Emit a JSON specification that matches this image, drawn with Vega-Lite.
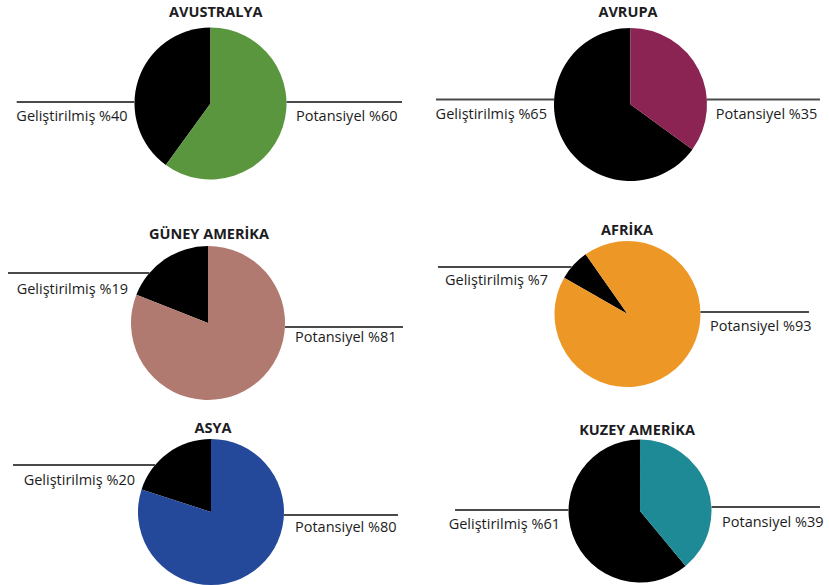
{
  "$schema": "https://vega.github.io/schema/vega-lite/v6.json",
  "padding": 0,
  "bounds": "flush",
  "align": "each",
  "background": "#ffffff",
  "spacing": 0,
  "columns": 2,
  "config": {
    "view": {"stroke": null},
    "text": {"font": "Open Sans", "fontSize": 14.5, "color": "#1c1c22"}
  },
  "datasets": {
    "veri": [
      {"kita": "AVUSTRALYA", "tur": "Geliştirilmiş", "deger": 40},
      {"kita": "AVUSTRALYA", "tur": "Potansiyel", "deger": 60},
      {"kita": "AVRUPA", "tur": "Geliştirilmiş", "deger": 65},
      {"kita": "AVRUPA", "tur": "Potansiyel", "deger": 35},
      {"kita": "GÜNEY AMERİKA", "tur": "Geliştirilmiş", "deger": 19},
      {"kita": "GÜNEY AMERİKA", "tur": "Potansiyel", "deger": 81},
      {"kita": "AFRİKA", "tur": "Geliştirilmiş", "deger": 7},
      {"kita": "AFRİKA", "tur": "Potansiyel", "deger": 93},
      {"kita": "ASYA", "tur": "Geliştirilmiş", "deger": 20},
      {"kita": "ASYA", "tur": "Potansiyel", "deger": 80},
      {"kita": "KUZEY AMERİKA", "tur": "Geliştirilmiş", "deger": 61},
      {"kita": "KUZEY AMERİKA", "tur": "Potansiyel", "deger": 39}
    ]
  },
  "concat": [
    {
      "width": 414, "height": 210,
      "data": {"name": "veri"},
      "transform": [{"filter": "datum.kita === 'AVUSTRALYA'"}, {"calculate": "datum.tur + ' %' + datum.deger", "as": "etiket"}],
      "encoding": {
        "x": {"datum": 0, "type": "quantitative", "scale": {"domain": [-2.770, 2.678], "nice": false, "zero": false}, "axis": null},
        "y": {"datum": 0, "type": "quantitative", "scale": {"domain": [-1.401, 1.362], "nice": false, "zero": false}, "axis": null}
      },
      "layer": [
        {"mark": {"type": "arc", "outerRadius": 76},
         "encoding": {"theta": {"field": "deger", "type": "quantitative", "stack": true},
                      "color": {"condition": {"test": "datum.tur === 'Potansiyel'", "value": "#5a963e"}, "value": "#000000"},
                      "order": {"field": "tur", "sort": "descending"}}},
        {"transform": [{"filter": "datum.tur === 'Potansiyel'"}], "mark": {"type": "text", "fontWeight": "bold", "baseline": "middle"},
         "encoding": {"x": {"datum": 0.07}, "y": {"datum": 1.195}, "text": {"field": "kita"}}},
        {"transform": [{"filter": "datum.tur === 'Geliştirilmiş'"}], "mark": {"type": "rule", "color": "#4a4a4a", "strokeWidth": 2},
         "encoding": {"x": {"datum": -2.55}, "x2": {"datum": -1.0}, "y": {"datum": 0.02}}},
        {"transform": [{"filter": "datum.tur === 'Geliştirilmiş'"}], "mark": {"type": "text", "align": "right", "baseline": "middle", "dy": 15},
         "encoding": {"x": {"datum": -1.09}, "y": {"datum": 0.02}, "text": {"field": "etiket"}}},
        {"transform": [{"filter": "datum.tur === 'Potansiyel'"}], "mark": {"type": "rule", "color": "#4a4a4a", "strokeWidth": 2},
         "encoding": {"x": {"datum": 1.0}, "x2": {"datum": 2.52}, "y": {"datum": 0.02}}},
        {"transform": [{"filter": "datum.tur === 'Potansiyel'"}], "mark": {"type": "text", "align": "left", "baseline": "middle", "dy": 15},
         "encoding": {"x": {"datum": 1.125}, "y": {"datum": 0.02}, "text": {"field": "etiket"}}}
      ]
    },
    {
      "width": 414, "height": 210,
      "data": {"name": "veri"},
      "transform": [{"filter": "datum.kita === 'AVRUPA'"}, {"calculate": "datum.tur + ' %' + datum.deger", "as": "etiket"}],
      "encoding": {
        "x": {"datum": 0, "type": "quantitative", "scale": {"domain": [-2.830, 2.582], "nice": false, "zero": false}, "axis": null},
        "y": {"datum": 0, "type": "quantitative", "scale": {"domain": [-1.379, 1.366], "nice": false, "zero": false}, "axis": null}
      },
      "layer": [
        {"mark": {"type": "arc", "outerRadius": 76.5},
         "encoding": {"theta": {"field": "deger", "type": "quantitative", "stack": true},
                      "color": {"condition": {"test": "datum.tur === 'Potansiyel'", "value": "#8b2353"}, "value": "#000000"},
                      "order": {"field": "tur", "sort": "descending"}}},
        {"transform": [{"filter": "datum.tur === 'Potansiyel'"}], "mark": {"type": "text", "fontWeight": "bold", "baseline": "middle"},
         "encoding": {"x": {"datum": -0.033}, "y": {"datum": 1.196}, "text": {"field": "kita"}}},
        {"transform": [{"filter": "datum.tur === 'Geliştirilmiş'"}], "mark": {"type": "rule", "color": "#4a4a4a", "strokeWidth": 2},
         "encoding": {"x": {"datum": -2.542}, "x2": {"datum": -1.0}, "y": {"datum": 0.065}}},
        {"transform": [{"filter": "datum.tur === 'Geliştirilmiş'"}], "mark": {"type": "text", "align": "right", "baseline": "middle", "dy": 15.5},
         "encoding": {"x": {"datum": -1.092}, "y": {"datum": 0.065}, "text": {"field": "etiket"}}},
        {"transform": [{"filter": "datum.tur === 'Potansiyel'"}], "mark": {"type": "rule", "color": "#4a4a4a", "strokeWidth": 2},
         "encoding": {"x": {"datum": 1.0}, "x2": {"datum": 2.477}, "y": {"datum": 0.065}}},
        {"transform": [{"filter": "datum.tur === 'Potansiyel'"}], "mark": {"type": "text", "align": "left", "baseline": "middle", "dy": 15.5},
         "encoding": {"x": {"datum": 1.116}, "y": {"datum": 0.065}, "text": {"field": "etiket"}}}
      ]
    },
    {
      "width": 414, "height": 200,
      "data": {"name": "veri"},
      "transform": [{"filter": "datum.kita === 'GÜNEY AMERİKA'"}, {"calculate": "datum.tur + ' %' + datum.deger", "as": "etiket"}],
      "encoding": {
        "x": {"datum": 0, "type": "quantitative", "scale": {"domain": [-2.701, 2.675], "nice": false, "zero": false}, "axis": null},
        "y": {"datum": 0, "type": "quantitative", "scale": {"domain": [-1.130, 1.468], "nice": false, "zero": false}, "axis": null}
      },
      "layer": [
        {"mark": {"type": "arc", "outerRadius": 77},
         "encoding": {"theta": {"field": "deger", "type": "quantitative", "stack": true},
                      "color": {"condition": {"test": "datum.tur === 'Potansiyel'", "value": "#b07a70"}, "value": "#000000"},
                      "order": {"field": "tur", "sort": "descending"}}},
        {"transform": [{"filter": "datum.tur === 'Potansiyel'"}], "mark": {"type": "text", "fontWeight": "bold", "baseline": "middle"},
         "encoding": {"x": {"datum": 0.013}, "y": {"datum": 1.143}, "text": {"field": "kita"}}},
        {"transform": [{"filter": "datum.tur === 'Geliştirilmiş'"}], "mark": {"type": "rule", "color": "#4a4a4a", "strokeWidth": 2},
         "encoding": {"x": {"datum": -2.597}, "x2": {"datum": -0.76}, "y": {"datum": 0.649}}},
        {"transform": [{"filter": "datum.tur === 'Geliştirilmiş'"}], "mark": {"type": "text", "align": "right", "baseline": "middle", "dy": 17},
         "encoding": {"x": {"datum": -1.039}, "y": {"datum": 0.649}, "text": {"field": "etiket"}}},
        {"transform": [{"filter": "datum.tur === 'Potansiyel'"}], "mark": {"type": "rule", "color": "#4a4a4a", "strokeWidth": 2},
         "encoding": {"x": {"datum": 1.0}, "x2": {"datum": 2.532}, "y": {"datum": -0.052}}},
        {"transform": [{"filter": "datum.tur === 'Potansiyel'"}], "mark": {"type": "text", "align": "left", "baseline": "middle", "dy": 11},
         "encoding": {"x": {"datum": 1.13}, "y": {"datum": -0.052}, "text": {"field": "etiket"}}}
      ]
    },
    {
      "width": 414, "height": 200,
      "data": {"name": "veri"},
      "transform": [{"filter": "datum.kita === 'AFRİKA'"}, {"calculate": "datum.tur + ' %' + datum.deger", "as": "etiket"}],
      "encoding": {
        "x": {"datum": 0, "type": "quantitative", "scale": {"domain": [-2.925, 2.747], "nice": false, "zero": false}, "axis": null},
        "y": {"datum": 0, "type": "quantitative", "scale": {"domain": [-1.315, 1.425], "nice": false, "zero": false}, "axis": null}
      },
      "layer": [
        {"mark": {"type": "arc", "outerRadius": 73},
         "encoding": {"theta": {"field": "deger", "type": "quantitative", "stack": true, "scale": {"range": [-0.611, 5.672]}},
                      "color": {"condition": {"test": "datum.tur === 'Potansiyel'", "value": "#ed9826"}, "value": "#000000"},
                      "order": {"field": "tur", "sort": "descending"}}},
        {"transform": [{"filter": "datum.tur === 'Potansiyel'"}], "mark": {"type": "text", "fontWeight": "bold", "baseline": "middle"},
         "encoding": {"x": {"datum": -0.007}, "y": {"datum": 1.137}, "text": {"field": "kita"}}},
        {"transform": [{"filter": "datum.tur === 'Geliştirilmiş'"}], "mark": {"type": "rule", "color": "#4a4a4a", "strokeWidth": 2},
         "encoding": {"x": {"datum": -2.596}, "x2": {"datum": -0.765}, "y": {"datum": 0.644}}},
        {"transform": [{"filter": "datum.tur === 'Geliştirilmiş'"}], "mark": {"type": "text", "align": "right", "baseline": "middle", "dy": 14},
         "encoding": {"x": {"datum": -1.089}, "y": {"datum": 0.644}, "text": {"field": "etiket"}}},
        {"transform": [{"filter": "datum.tur === 'Potansiyel'"}], "mark": {"type": "rule", "color": "#4a4a4a", "strokeWidth": 2},
         "encoding": {"x": {"datum": 1.0}, "x2": {"datum": 2.486}, "y": {"datum": 0.027}}},
        {"transform": [{"filter": "datum.tur === 'Potansiyel'"}], "mark": {"type": "text", "align": "left", "baseline": "middle", "dy": 15},
         "encoding": {"x": {"datum": 1.13}, "y": {"datum": 0.027}, "text": {"field": "etiket"}}}
      ]
    },
    {
      "width": 414, "height": 175,
      "data": {"name": "veri"},
      "transform": [{"filter": "datum.kita === 'ASYA'"}, {"calculate": "datum.tur + ' %' + datum.deger", "as": "etiket"}],
      "encoding": {
        "x": {"datum": 0, "type": "quantitative", "scale": {"domain": [-2.890, 2.781], "nice": false, "zero": false}, "axis": null},
        "y": {"datum": 0, "type": "quantitative", "scale": {"domain": [-1.0, 1.397], "nice": false, "zero": false}, "axis": null}
      },
      "layer": [
        {"mark": {"type": "arc", "outerRadius": 73},
         "encoding": {"theta": {"field": "deger", "type": "quantitative", "stack": true},
                      "color": {"condition": {"test": "datum.tur === 'Potansiyel'", "value": "#24489a"}, "value": "#000000"},
                      "order": {"field": "tur", "sort": "descending"}}},
        {"transform": [{"filter": "datum.tur === 'Potansiyel'"}], "mark": {"type": "text", "fontWeight": "bold", "baseline": "middle"},
         "encoding": {"x": {"datum": 0.027}, "y": {"datum": 1.137}, "text": {"field": "kita"}}},
        {"transform": [{"filter": "datum.tur === 'Geliştirilmiş'"}], "mark": {"type": "rule", "color": "#4a4a4a", "strokeWidth": 2},
         "encoding": {"x": {"datum": -2.712}, "x2": {"datum": -0.765}, "y": {"datum": 0.644}}},
        {"transform": [{"filter": "datum.tur === 'Geliştirilmiş'"}], "mark": {"type": "text", "align": "right", "baseline": "middle", "dy": 16},
         "encoding": {"x": {"datum": -1.041}, "y": {"datum": 0.644}, "text": {"field": "etiket"}}},
        {"transform": [{"filter": "datum.tur === 'Potansiyel'"}], "mark": {"type": "rule", "color": "#4a4a4a", "strokeWidth": 2},
         "encoding": {"x": {"datum": 1.0}, "x2": {"datum": 2.562}, "y": {"datum": -0.041}}},
        {"transform": [{"filter": "datum.tur === 'Potansiyel'"}], "mark": {"type": "text", "align": "left", "baseline": "middle", "dy": 13},
         "encoding": {"x": {"datum": 1.151}, "y": {"datum": -0.041}, "text": {"field": "etiket"}}}
      ]
    },
    {
      "width": 414, "height": 175,
      "data": {"name": "veri"},
      "transform": [{"filter": "datum.kita === 'KUZEY AMERİKA'"}, {"calculate": "datum.tur + ' %' + datum.deger", "as": "etiket"}],
      "encoding": {
        "x": {"datum": 0, "type": "quantitative", "scale": {"domain": [-3.161, 2.629], "nice": false, "zero": false}, "axis": null},
        "y": {"datum": 0, "type": "quantitative", "scale": {"domain": [-1.035, 1.413], "nice": false, "zero": false}, "axis": null}
      },
      "layer": [
        {"mark": {"type": "arc", "outerRadius": 71.5},
         "encoding": {"theta": {"field": "deger", "type": "quantitative", "stack": true},
                      "color": {"condition": {"test": "datum.tur === 'Potansiyel'", "value": "#1e8a95"}, "value": "#000000"},
                      "order": {"field": "tur", "sort": "descending"}}},
        {"transform": [{"filter": "datum.tur === 'Potansiyel'"}], "mark": {"type": "text", "fontWeight": "bold", "baseline": "middle"},
         "encoding": {"x": {"datum": -0.042}, "y": {"datum": 1.119}, "text": {"field": "kita"}}},
        {"transform": [{"filter": "datum.tur === 'Geliştirilmiş'"}], "mark": {"type": "rule", "color": "#4a4a4a", "strokeWidth": 2},
         "encoding": {"x": {"datum": -2.587}, "x2": {"datum": -1.0}, "y": {"datum": 0.014}}},
        {"transform": [{"filter": "datum.tur === 'Geliştirilmiş'"}], "mark": {"type": "text", "align": "right", "baseline": "middle", "dy": 15},
         "encoding": {"x": {"datum": -1.119}, "y": {"datum": 0.014}, "text": {"field": "etiket"}}},
        {"transform": [{"filter": "datum.tur === 'Potansiyel'"}], "mark": {"type": "rule", "color": "#4a4a4a", "strokeWidth": 2},
         "encoding": {"x": {"datum": 1.0}, "x2": {"datum": 2.517}, "y": {"datum": 0.056}}},
        {"transform": [{"filter": "datum.tur === 'Potansiyel'"}], "mark": {"type": "text", "align": "left", "baseline": "middle", "dy": 16},
         "encoding": {"x": {"datum": 1.147}, "y": {"datum": 0.056}, "text": {"field": "etiket"}}}
      ]
    }
  ]
}
